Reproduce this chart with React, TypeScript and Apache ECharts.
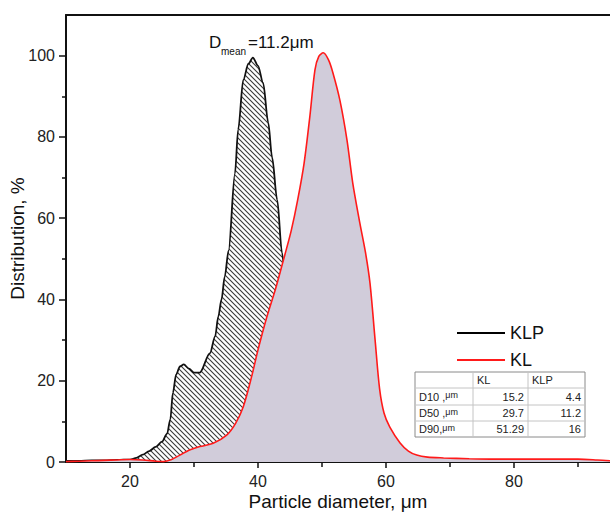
import React, { useEffect, useRef } from "react";
import * as echarts from "echarts";

// ---- data ----
const klpX = [10, 12, 14, 16, 18, 20, 21, 22, 23, 24, 25, 25.8, 26.3, 26.7, 27.2, 27.8, 28.4, 29.2, 30, 30.9, 32.5, 33.3, 33.8, 34.3, 34.8, 35.4, 36.4, 36.9, 37.7, 38.5, 39.2, 40, 40.8, 41.6, 42.2, 43, 43.75, 44.5, 45.5, 46.5, 47.5, 48.5, 50, 52, 55, 60, 70, 95];
const klpY = [0.3, 0.3, 0.4, 0.4, 0.5, 0.6, 1.0, 1.8, 2.7, 3.7, 5.0, 7, 10.5, 17, 21.5, 23.5, 24, 23, 22, 22, 26.8, 30.9, 35.8, 40, 45.6, 52, 71, 81.8, 94, 98, 99.5, 97.5, 93.3, 83.5, 75, 64.5, 51.5, 40, 28, 17, 9, 4, 1.5, 0.5, 0.2, 0.1, 0, 0];

const klX = [10, 12, 14, 16, 18, 20, 22, 24, 25.2, 26.5, 27.8, 29.4, 30.9, 33, 35.1, 36.5, 37.7, 39, 40, 41.4, 42.7, 43.7, 44.2, 45.2, 46.2, 47.2, 48.1, 48.9, 49.5, 50.2, 51, 51.7, 52.8, 53.9, 54.8, 55.9, 56.8, 57.5, 58.3, 59, 59.7, 60.6, 62.2, 63.5, 64.8, 66.5, 69, 73, 77, 85, 90, 93, 95];
const klY = [0.1, 0.2, 0.3, 0.4, 0.5, 0.6, 0.5, 0.2, 0.1, 0.6, 1.7, 3, 3.8, 4.6, 6.6, 9.5, 13.6, 21, 27.6, 35.8, 42.4, 48.1, 51, 57, 64.5, 73.5, 85, 96.5, 99.8, 100.7, 99, 95.8, 89, 79.3, 68.7, 58.9, 51.5, 44, 30, 18, 12, 8.6, 4.7, 2.7, 1.7, 1.2, 1, 0.8, 0.7, 0.7, 0.7, 0.5, 0.3];

const xMajorTicks = [20, 40, 60, 80];
const xMinorTicks = [30, 50, 70, 90];
const yMajorTicks = [0, 20, 40, 60, 80, 100];
const yMinorTicks = [10, 30, 50, 70, 90];

const seriesNames = ["KLP", "KL"];
const tableHeader = ["", "KL", "KLP"];
const tableRowLabels = ["D10 ,", "D50 ,", "D90,"];
const tableKL = ["15.2", "29.7", "51.29"];
const tableKLP = ["4.4", "11.2", "16"];
const meanKLP = "=11.2μm";
const meanKL = "=33.4μm";

const FONT = "'Liberation Sans', Arial, sans-serif";

function zip(xs: number[], ys: number[]) {
  return xs.map((x, i) => [x, ys[i]]);
}

function makeHatch(): HTMLCanvasElement {
  const s = 5;
  const c = document.createElement("canvas");
  c.width = s;
  c.height = s;
  const ctx = c.getContext("2d")!;
  ctx.fillStyle = "#ffffff";
  ctx.fillRect(0, 0, s, s);
  ctx.strokeStyle = "#3a3a3a";
  ctx.lineWidth = 1.1;
  ctx.beginPath();
  ctx.moveTo(-1, -1);
  ctx.lineTo(s + 1, s + 1);
  ctx.moveTo(-1, s - 1);
  ctx.lineTo(1, s + 1);
  ctx.moveTo(s - 1, -1);
  ctx.lineTo(s + 1, 1);
  ctx.stroke();
  return c;
}

function meanLabel(x: number, y: number, value: string) {
  return {
    type: "group",
    x,
    y,
    children: [
      { type: "text", x: 0, y: 0, style: { text: "D", fontSize: 17, fontFamily: FONT, fill: "#111", verticalAlign: "middle" } },
      { type: "text", x: 12, y: 9, style: { text: "mean", fontSize: 10, fontFamily: FONT, fill: "#111", verticalAlign: "middle" } },
      { type: "text", x: 39, y: 0, style: { text: value, fontSize: 17, fontFamily: FONT, fill: "#111", verticalAlign: "middle" } },
    ],
  };
}

function tableGraphic() {
  const colX = [415, 473, 528, 585];
  const rowY = [372, 388, 405, 421, 437];
  const children: any[] = [];
  children.push({ type: "rect", shape: { x: colX[0], y: rowY[0], width: colX[3] - colX[0], height: rowY[4] - rowY[0] }, style: { fill: "#fff", stroke: "#8a8a8a", lineWidth: 1 } });
  for (let i = 1; i < 3; i++) {
    children.push({ type: "line", shape: { x1: colX[i], y1: rowY[0], x2: colX[i], y2: rowY[4] }, style: { stroke: "#c4c4c4", lineWidth: 1 } });
  }
  for (let j = 1; j < 4; j++) {
    children.push({ type: "line", shape: { x1: colX[0], y1: rowY[j], x2: colX[3], y2: rowY[j] }, style: { stroke: "#c4c4c4", lineWidth: 1 } });
  }
  const ts = { fontSize: 11, fontFamily: FONT, fill: "#222", verticalAlign: "middle" };
  const hy = (rowY[0] + rowY[1]) / 2;
  children.push({ type: "text", x: colX[1] + 4, y: hy, style: { ...ts, text: tableHeader[1] } });
  children.push({ type: "text", x: colX[2] + 4, y: hy, style: { ...ts, text: tableHeader[2] } });
  for (let r = 0; r < 3; r++) {
    const cy = (rowY[r + 1] + rowY[r + 2]) / 2;
    children.push({
      type: "text",
      x: colX[0] + 4,
      y: cy,
      style: {
        ...ts,
        text: "{a|" + tableRowLabels[r] + "}{b|μm}",
        rich: {
          a: { fontSize: 11, fontFamily: FONT, fill: "#222" },
          b: { fontSize: 9, fontFamily: FONT, fill: "#222", padding: [0, 0, 3, 0] },
        },
      },
    });
    children.push({ type: "text", x: colX[2] - 4, y: cy, style: { ...ts, text: tableKL[r], align: "right" } });
    children.push({ type: "text", x: colX[3] - 4, y: cy, style: { ...ts, text: tableKLP[r], align: "right" } });
  }
  return { type: "group", children };
}

export default function App() {
  const ref = useRef<HTMLDivElement>(null);
  useEffect(() => {
    if (!ref.current) return;
    const chart = echarts.init(ref.current, undefined, { renderer: "svg" });
    const hatch = makeHatch();
    const axisLineStyle = { color: "#111", width: 2 };
    const option: any = {
      animation: false,
      backgroundColor: "#ffffff",
      textStyle: { fontFamily: FONT },
      grid: { left: 66, right: 0, top: 15, bottom: 50, containLabel: false, outerBoundsMode: "none" },
      legend: {
        data: seriesNames,
        orient: "vertical",
        left: 452,
        top: 318,
        icon: "rect",
        itemWidth: 48,
        itemHeight: 2,
        itemGap: 7,
        textStyle: { fontSize: 18, fontFamily: FONT, color: "#111", lineHeight: 20 },
      },
      xAxis: [
        {
          type: "value",
          min: 10,
          max: 95,
          position: "bottom",
          name: "Particle diameter, μm",
          nameLocation: "middle",
          nameGap: 30,
          nameMoveOverlap: false,
          nameTextStyle: { fontSize: 19, fontFamily: FONT, color: "#111" },
          axisLine: { show: true, lineStyle: axisLineStyle },
          axisTick: { show: true, inside: false, length: 6, customValues: xMajorTicks, lineStyle: { color: "#111", width: 1.5 } },
          axisLabel: { show: true, customValues: xMajorTicks, margin: 11, fontSize: 16, fontFamily: FONT, color: "#222" },
          splitLine: { show: false },
        },
        {
          type: "value",
          min: 10,
          max: 95,
          position: "bottom",
          axisLine: { show: false },
          axisTick: { show: true, inside: false, length: 5, customValues: xMinorTicks, lineStyle: { color: "#111", width: 1.5 } },
          axisLabel: { show: false },
          splitLine: { show: false },
        },
        {
          type: "value",
          min: 10,
          max: 95,
          position: "top",
          axisLine: { show: true, lineStyle: axisLineStyle },
          axisTick: { show: false },
          axisLabel: { show: false },
          splitLine: { show: false },
        },
      ],
      yAxis: [
        {
          type: "value",
          min: 0,
          max: 110,
          position: "left",
          name: "Distribution, %",
          nameLocation: "middle",
          nameGap: 39,
          nameMoveOverlap: false,
          nameTextStyle: { fontSize: 19, fontFamily: FONT, color: "#111" },
          axisLine: { show: true, lineStyle: axisLineStyle },
          axisTick: { show: true, inside: false, length: 7, customValues: yMajorTicks, lineStyle: { color: "#111", width: 1.5 } },
          axisLabel: { show: true, customValues: yMajorTicks, margin: 11, fontSize: 16, fontFamily: FONT, color: "#222" },
          splitLine: { show: false },
        },
        {
          type: "value",
          min: 0,
          max: 110,
          position: "left",
          axisLine: { show: false },
          axisTick: { show: true, inside: false, length: 4, customValues: yMinorTicks, lineStyle: { color: "#111", width: 1.5 } },
          axisLabel: { show: false },
          splitLine: { show: false },
        },
      ],
      series: [
        {
          name: seriesNames[0],
          type: "line",
          xAxisIndex: 0,
          yAxisIndex: 0,
          data: zip(klpX, klpY),
          smooth: 0.3,
          smoothMonotone: "x",
          showSymbol: false,
          symbol: "none",
          itemStyle: { color: "#000000" },
          lineStyle: { color: "#111111", width: 1.8 },
          areaStyle: {
            color: { image: hatch, repeat: "repeat", imageWidth: 5, imageHeight: 5 },
            opacity: 1,
          },
          z: 2,
        },
        {
          name: seriesNames[1],
          type: "line",
          xAxisIndex: 0,
          yAxisIndex: 0,
          data: zip(klX, klY),
          smooth: 0.3,
          showSymbol: false,
          symbol: "none",
          itemStyle: { color: "#ff1a1a" },
          lineStyle: { color: "#ff1a1a", width: 1.6 },
          areaStyle: { color: "#d1ccda", opacity: 1 },
          z: 3,
        },
      ],
      graphic: [meanLabel(209, 42.5, meanKLP), meanLabel(269, 437.5, meanKL), tableGraphic()],
    };
    chart.setOption(option);
    return () => chart.dispose();
  }, []);
  return <div ref={ref} style={{ width: 610, height: 512, position: "absolute", left: 0, top: 0 }} />;
}
